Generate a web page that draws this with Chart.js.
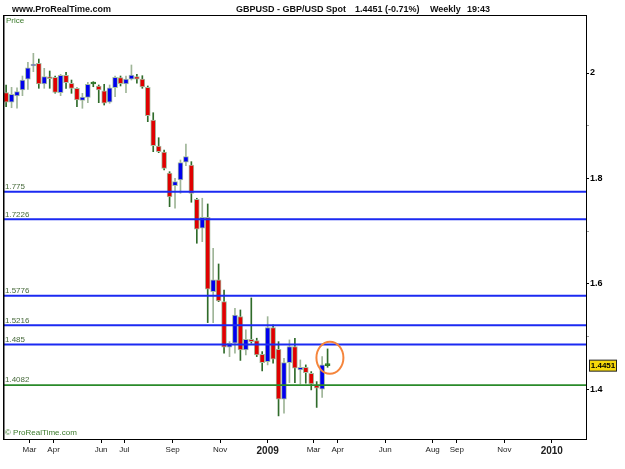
<!DOCTYPE html>
<html>
<head>
<meta charset="utf-8">
<script src="https://cdn.jsdelivr.net/npm/chart.js@4.4.0/dist/chart.umd.min.js"></script>
<style>
  html, body { margin: 0; padding: 0; background: #fff; }
  #wrap { width: 625px; height: 469px; }
</style>
</head>
<body>
<div id="wrap"><canvas id="chart" width="625" height="469"></canvas></div>
<script>
// GBP/USD weekly candles
const firstWeek = '2008-01-31';
const opens  = [1.9627, 1.9445, 1.9564, 1.9678, 1.9881, 2.0133, 2.0184, 1.9791, 1.9924, 1.9918,
                1.9627, 1.9956, 1.9805, 1.9710, 1.9482, 1.9539, 1.9791, 1.9754, 1.9664, 1.9445,
                1.9721, 1.9911, 1.9791, 1.9881, 1.9930, 1.9886, 1.9729, 1.9109, 1.8616, 1.8502,
                1.8104, 1.7863, 1.7972, 1.8307, 1.8256, 1.7606, 1.7056, 1.7265, 1.5854, 1.6076,
                1.5665, 1.4800, 1.4876, 1.5380, 1.4749, 1.4952, 1.4925, 1.4667, 1.4527, 1.5172,
                1.4762, 1.3814, 1.4508, 1.4812, 1.4370, 1.4421, 1.4307, 1.4085, 1.4004, 1.4451];
const highs  = [1.9773, 1.9729, 1.9721, 1.9943, 2.0203, 2.0373, 2.0265, 2.0089, 2.0038, 1.9940,
                1.9975, 2.0013, 1.9867, 1.9721, 1.9615, 1.9824, 1.9835, 1.9773, 1.9786, 1.9773,
                1.9943, 1.9943, 1.9943, 2.0152, 1.9975, 1.9949, 1.9754, 1.9247, 1.8773, 1.8540,
                1.8129, 1.8004, 1.8351, 1.8654, 1.8319, 1.7625, 1.7625, 1.7517, 1.6677, 1.6379,
                1.5886, 1.4906, 1.5539, 1.5507, 1.5128, 1.5735, 1.4971, 1.4717, 1.5380, 1.5223,
                1.4906, 1.4592, 1.4939, 1.4971, 1.4559, 1.4465, 1.4338, 1.4148, 1.4622, 1.4768];
const lows   = [1.9361, 1.9342, 1.9331, 1.9570, 1.9691, 2.0025, 1.9710, 1.9710, 1.9710, 1.9620,
                1.9570, 1.9710, 1.9615, 1.9361, 1.9331, 1.9437, 1.9740, 1.9437, 1.9393, 1.9426,
                1.9551, 1.9754, 1.9627, 1.9867, 1.9805, 1.9710, 1.9077, 1.8508, 1.8489, 1.8161,
                1.7465, 1.7435, 1.7719, 1.8243, 1.7549, 1.6772, 1.6802, 1.5267, 1.5267, 1.5665,
                1.4686, 1.4622, 1.4686, 1.4550, 1.4654, 1.4876, 1.4622, 1.4351, 1.4465, 1.4497,
                1.3498, 1.3549, 1.4129, 1.4129, 1.4104, 1.4118, 1.3991, 1.3659, 1.3850, 1.4420];
const closes = [1.9445, 1.9596, 1.9646, 1.9867, 2.0100, 2.0165, 1.9791, 1.9930, 1.9892, 1.9634,
                1.9956, 1.9816, 1.9710, 1.9488, 1.9545, 1.9786, 1.9791, 1.9678, 1.9426, 1.9721,
                1.9918, 1.9797, 1.9886, 1.9962, 1.9881, 1.9735, 1.9191, 1.8622, 1.8508, 1.8193,
                1.7649, 1.7939, 1.8300, 1.8413, 1.7719, 1.7037, 1.7265, 1.5900, 1.6076, 1.5678,
                1.4800, 1.4876, 1.5412, 1.4749, 1.4952, 1.4906, 1.4654, 1.4508, 1.5172, 1.4573,
                1.3814, 1.4508, 1.4812, 1.4402, 1.4421, 1.4319, 1.4104, 1.4023, 1.4465, 1.4451];

// horizontal levels drawn on the chart
const levels = [1.775, 1.7226, 1.5776, 1.5216, 1.485, 1.4082];
const levelColors = ['#1b2af2', '#1b2af2', '#1b2af2', '#1b2af2', '#1b2af2', '#2a8a2a'];

// axis ticks
const monthTicks = ['2008-03-01', '2008-04-01', '2008-06-01', '2008-07-01', '2008-09-01', '2008-11-01', '2009-01-01',
                    '2009-03-01', '2009-04-01', '2009-06-01', '2009-08-01', '2009-09-01', '2009-11-01', '2010-01-01'];
const monthLabels = ['Mar', 'Apr', 'Jun', 'Jul', 'Sep', 'Nov', '2009', 'Mar', 'Apr', 'Jun', 'Aug', 'Sep', 'Nov', '2010'];
const priceTicks = [1.4, 1.5, 1.6, 1.7, 1.8, 1.9, 2.0];
const priceLabels = ['1.4', '', '1.6', '', '1.8', '', '2'];

const xStart = '2008-01-27';
const xEnd = '2010-02-14';
const yMin = 1.306;
const yMax = 2.11;

// circled area around the last candle
const markDate = '2009-03-22';
const markPrice = 1.46;

const FONT = '"Liberation Sans", Arial, sans-serif';

// days counted from 1 Jan 2009
function dayOf(s) {
    return (Date.parse(s) - Date.parse('2009-01-01')) / 864e5;
}

const weekDays = opens.map((_, i) => dayOf(firstWeek) + 7 * i);
const bodyData = weekDays.map((d, i) => ({ x: d, y: [opens[i], closes[i]] }));
const wickData = weekDays.map((d, i) => ({ x: d, y: [lows[i], highs[i]] }));

function bodyColor(i) {
    if (i === undefined) return '#000';
    if (closes[i] > opens[i]) return '#0000ee';
    if (closes[i] < opens[i]) return '#e00000';
    return '#2f7a2a';
}
function wickColor(i) {
    if (i === undefined) return '#000';
    return closes[i] > opens[i] ? '#9fb598' : '#2f6b2a';
}

const levelSets = levels.map((lv, i) => ({
    type: 'line',
    data: [{ x: dayOf(xStart), y: lv }, { x: dayOf(xEnd), y: lv }],
    borderColor: levelColors[i],
    borderWidth: i === 5 ? 1.6 : 2,
    pointRadius: 0,
    order: 0
}));

const overlay = {
    id: 'overlay',
    afterDatasetsDraw(chart) {
        const { ctx, chartArea: a, scales: { x, y } } = chart;
        ctx.save();
        // level values above each line
        ctx.font = '8px ' + FONT;
        ctx.fillStyle = '#46693a';
        ctx.textBaseline = 'bottom';
        ctx.textAlign = 'left';
        levels.forEach(lv => ctx.fillText(String(lv), a.left + 2, y.getPixelForValue(lv) - 1));

        // orange circle
        ctx.strokeStyle = '#f5853c';
        ctx.lineWidth = 2;
        ctx.beginPath();
        ctx.ellipse(x.getPixelForValue(dayOf(markDate)), y.getPixelForValue(markPrice), 13.5, 16, 0, 0, Math.PI * 2);
        ctx.stroke();
        ctx.restore();
    },
    afterDraw(chart) {
        const { ctx, chartArea: a, scales: { y } } = chart;
        ctx.save();
        // frame
        ctx.strokeStyle = '#000';
        ctx.lineWidth = 1;
        ctx.strokeRect(a.left + 0.5, a.top + 0.5, a.right - a.left, a.bottom - a.top);
        ctx.fillStyle = '#000';
        ctx.fillRect(a.left, a.top, 1.5, a.bottom - a.top);

        // header
        ctx.textBaseline = 'middle';
        ctx.textAlign = 'left';
        ctx.fillStyle = '#111';
        ctx.font = 'bold 9px ' + FONT;
        ctx.fillText('www.ProRealTime.com', 12, 9.5);
        ctx.fillText('GBPUSD - GBP/USD Spot', 236, 9.5);
        ctx.fillText('1.4451 (-0.71%)', 355, 9.5);
        ctx.fillText('Weekly', 430, 9.5);
        ctx.fillText('19:43', 467, 9.5);

        ctx.fillStyle = '#3a7a2a';
        ctx.font = '8px ' + FONT;
        ctx.fillText('Price', a.left + 3, a.top + 6);
        ctx.fillText('\u00a9 ProRealTime.com', a.left + 2, a.bottom - 6);

        // last price box
        const last = closes[closes.length - 1];
        const py = y.getPixelForValue(last);
        ctx.fillStyle = '#f6d80a';
        ctx.fillRect(589.5, py - 5.5, 27, 11);
        ctx.strokeStyle = '#222';
        ctx.strokeRect(589.5, py - 5.5, 27, 11);
        ctx.fillStyle = '#000';
        ctx.textAlign = 'center';
        ctx.font = 'bold 8px ' + FONT;
        ctx.fillText(last.toFixed(4), 603, py + 0.5);
        ctx.restore();
    }
};

new Chart(document.getElementById('chart'), {
    type: 'bar',
    data: {
        datasets: [
            ...levelSets,
            {
                data: bodyData,
                grouped: false,
                barThickness: 5,
                minBarLength: 2,
                borderWidth: 1,
                borderSkipped: false,
                backgroundColor: c => bodyColor(c.dataIndex),
                borderColor: c => (closes[c.dataIndex] === opens[c.dataIndex] ? '#2f7a2a' : '#a6bca2'),
                order: 1
            },
            {
                data: wickData,
                grouped: false,
                barThickness: 1,
                borderWidth: 0,
                backgroundColor: c => wickColor(c.dataIndex),
                order: 2
            }
        ]
    },
    options: {
        responsive: false,
        animation: false,
        events: [],
        layout: { padding: { left: 3, top: 15, right: 0, bottom: 0 } },
        plugins: {
            legend: { display: false },
            tooltip: { enabled: false }
        },
        scales: {
            x: {
                type: 'linear',
                min: dayOf(xStart),
                max: dayOf(xEnd),
                offset: false,
                afterBuildTicks: s => { s.ticks = monthTicks.map(m => ({ value: dayOf(m) })); },
                afterFit: s => { s.height = 30; },
                grid: { drawOnChartArea: false, offset: false, tickLength: 4, color: '#000' },
                border: { display: false },
                ticks: {
                    autoSkip: false,
                    maxRotation: 0,
                    padding: 2,
                    color: '#222',
                    font: c => (monthLabels[c.index] && monthLabels[c.index].length === 4
                        ? { family: FONT, size: 10, weight: 'bold' }
                        : { family: FONT, size: 8 }),
                    callback: (v, i) => monthLabels[i]
                }
            },
            y: {
                position: 'right',
                min: yMin,
                max: yMax,
                afterBuildTicks: s => { s.ticks = priceTicks.map(v => ({ value: v })); },
                afterFit: s => { s.width = 39; },
                grid: {
                    drawOnChartArea: false,
                    tickLength: 3,
                    color: c => (priceLabels[c.index] ? '#000' : '#999')
                },
                border: { display: false },
                ticks: {
                    padding: 1,
                    color: '#000',
                    font: { family: FONT, size: 9, weight: 'bold' },
                    callback: (v, i) => priceLabels[i]
                }
            }
        }
    },
    plugins: [overlay]
});
</script>
</body>
</html>
